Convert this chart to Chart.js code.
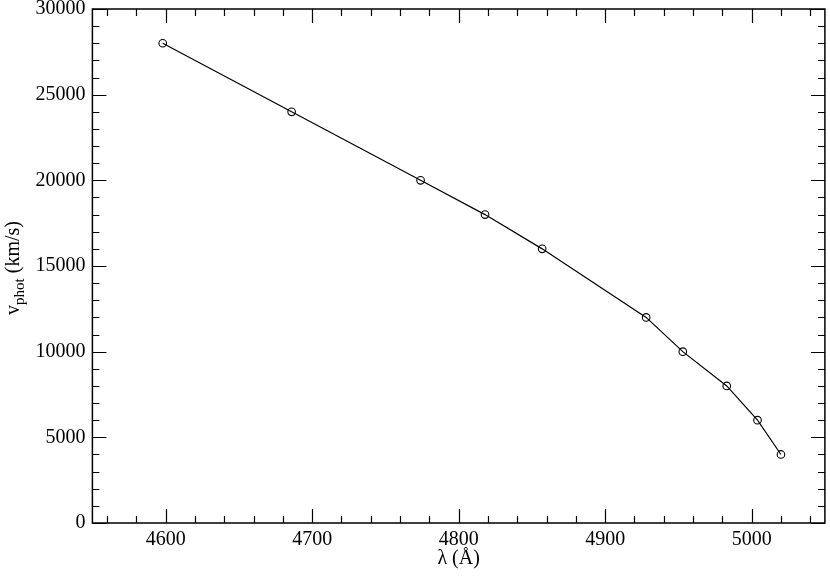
<!DOCTYPE html>
<html>
<head>
<meta charset="utf-8">
<script src="https://cdn.jsdelivr.net/npm/chart.js@4/dist/chart.umd.min.js"></script>
<style>
html,body{margin:0;padding:0;background:#fff;}
#wrap{width:830px;height:577px;}
</style>
</head>
<body>
<div id="wrap"><canvas id="c" width="830" height="577"></canvas></div>
<script>
const wavelength = [4598, 4686, 4774, 4818, 4857, 4928, 4953, 4983, 5004, 5020];
const vphot = [28000, 24000, 20000, 18000, 16000, 12000, 10000, 8000, 6000, 4000];
const xMajorTicks = [4600, 4700, 4800, 4900, 5000];
const yMajorTicks = [0, 5000, 10000, 15000, 20000, 25000, 30000];
const xMinorStep = 20;
const yMinorStep = 1000;
const xTitle = 'λ (Å)';
const yTitleMain = 'v';
const yTitleSub = 'phot';
const yTitleRest = ' (km/s)';

const FONT = '"Liberation Serif", "Times New Roman", serif';

const framePlugin = {
  id: 'frame',
  afterDraw(chart) {
    const {ctx, chartArea: a, scales: {x, y}} = chart;
    ctx.save();
    ctx.strokeStyle = '#000';
    ctx.lineWidth = 1.5;
    ctx.strokeRect(a.left, a.top, a.right - a.left, a.bottom - a.top);
    ctx.lineWidth = 1.2;
    ctx.beginPath();
    const xmin = x.min, xmax = x.max;
    for (let v = Math.ceil(xmin / xMinorStep) * xMinorStep; v <= xmax; v += xMinorStep) {
      const px = Math.round(x.getPixelForValue(v)) + 0.5;
      const len = xMajorTicks.includes(v) ? 14 : 7;
      ctx.moveTo(px, a.bottom); ctx.lineTo(px, a.bottom - len);
      ctx.moveTo(px, a.top); ctx.lineTo(px, a.top + len);
    }
    for (let v = Math.ceil(y.min / yMinorStep) * yMinorStep; v <= y.max; v += yMinorStep) {
      const py = Math.round(y.getPixelForValue(v)) + 0.5;
      const len = yMajorTicks.includes(v) ? 14 : 7;
      ctx.moveTo(a.left, py); ctx.lineTo(a.left + len, py);
      ctx.moveTo(a.right, py); ctx.lineTo(a.right - len, py);
    }
    ctx.stroke();

    // y-axis title with subscript
    ctx.fillStyle = '#000';
    ctx.translate(18.5, (a.top + a.bottom) / 2 + 2);
    ctx.rotate(-Math.PI / 2);
    ctx.textBaseline = 'alphabetic';
    ctx.textAlign = 'left';
    const fMain = '20px ' + FONT, fSub = '15px ' + FONT;
    ctx.font = fMain; const w1 = ctx.measureText(yTitleMain).width;
    ctx.font = fSub; const w2 = ctx.measureText(yTitleSub).width;
    ctx.font = fMain; const w3 = ctx.measureText(yTitleRest).width;
    let sx = -(w1 + w2 + w3) / 2;
    ctx.font = fMain; ctx.fillText(yTitleMain, sx, 0); sx += w1;
    ctx.font = fSub; ctx.fillText(yTitleSub, sx, 5); sx += w2;
    ctx.font = fMain; ctx.fillText(yTitleRest, sx, 0);
    ctx.restore();
  }
};

new Chart(document.getElementById('c'), {
  type: 'scatter',
  data: {
    datasets: [{
      data: wavelength.map((w, i) => ({x: w, y: vphot[i]})),
      showLine: true,
      borderColor: '#000',
      borderWidth: 1.2,
      pointStyle: 'circle',
      pointRadius: 3.8,
      pointBorderWidth: 1.1,
      pointBorderColor: '#000',
      pointBackgroundColor: 'rgba(0,0,0,0)',
      backgroundColor: 'rgba(0,0,0,0)',
      tension: 0
    }]
  },
  options: {
    responsive: false,
    animation: false,
    devicePixelRatio: 1,
    layout: {padding: {top: 9, right: 4, left: 0, bottom: 0}},
    plugins: {legend: {display: false}, tooltip: {enabled: false}},
    scales: {
      x: {
        type: 'linear',
        min: 4550, max: 5050,
        afterBuildTicks: s => { s.ticks = xMajorTicks.map(v => ({value: v})); },
        afterFit: s => { s.height = 54; s.paddingLeft = 0; s.paddingRight = 0; },
        grid: {display: false, drawTicks: false, tickLength: 0},
        border: {display: false},
        ticks: {
          color: '#000', padding: 5, maxRotation: 0, autoSkip: false,
          font: {family: FONT, size: 20},
          callback: v => String(v)
        },
        title: {display: true, text: xTitle, color: '#000', font: {family: FONT, size: 20}, padding: {top: 0, bottom: 6}}
      },
      y: {
        type: 'linear',
        min: 0, max: 30000,
        afterBuildTicks: s => { s.ticks = yMajorTicks.map(v => ({value: v})); },
        afterFit: s => { s.width = 92.4; s.paddingTop = 0; s.paddingBottom = 0; },
        grid: {display: false, drawTicks: false, tickLength: 0},
        border: {display: false},
        ticks: {
          color: '#000', padding: 7, autoSkip: false,
          font: {family: FONT, size: 20},
          callback: v => String(v)
        }
      }
    }
  },
  plugins: [framePlugin]
});
</script>
</body>
</html>
